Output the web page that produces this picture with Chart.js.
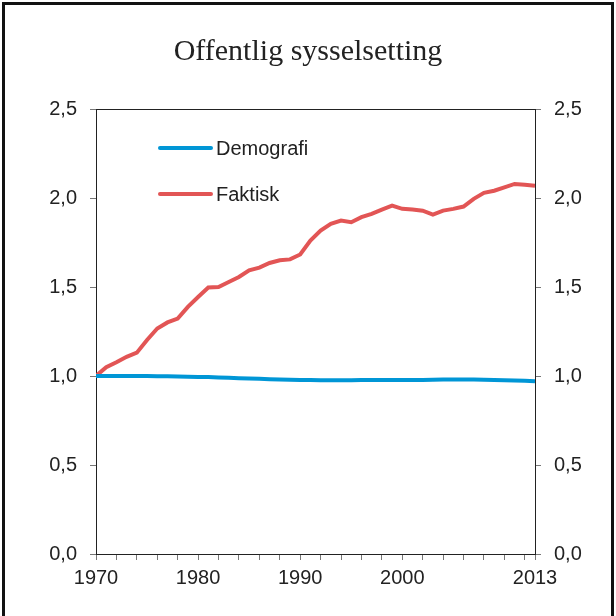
<!DOCTYPE html>
<html>
<head>
<meta charset="utf-8">
<script src="https://cdn.jsdelivr.net/npm/chart.js@4/dist/chart.umd.min.js"></script>
<style>
  body { margin: 0; background: #fff; }
  canvas { display: block; }
</style>
</head>
<body>
<canvas id="sysselChart" width="616" height="616"></canvas>
<script>
// years 1970-2013
const years = [1970, 1971, 1972, 1973, 1974, 1975, 1976, 1977, 1978, 1979,
    1980, 1981, 1982, 1983, 1984, 1985, 1986, 1987, 1988, 1989,
    1990, 1991, 1992, 1993, 1994, 1995, 1996, 1997, 1998, 1999,
    2000, 2001, 2002, 2003, 2004, 2005, 2006, 2007, 2008, 2009,
    2010, 2011, 2012, 2013];

const demografi = [1.000, 1.000, 1.000, 1.000, 1.000, 1.000, 0.999, 0.998, 0.997, 0.996,
    0.995, 0.994, 0.992, 0.990, 0.988, 0.986, 0.984, 0.982, 0.980, 0.979,
    0.978, 0.977, 0.976, 0.976, 0.976, 0.976, 0.977, 0.977, 0.977, 0.977,
    0.977, 0.978, 0.978, 0.979, 0.980, 0.980, 0.980, 0.980, 0.979, 0.977,
    0.976, 0.975, 0.973, 0.971];

const faktisk = [1.000, 1.049, 1.077, 1.108, 1.131, 1.202, 1.267, 1.301, 1.323, 1.388,
    1.444, 1.497, 1.500, 1.528, 1.556, 1.594, 1.609, 1.635, 1.650, 1.655,
    1.683, 1.761, 1.817, 1.855, 1.873, 1.864, 1.892, 1.911, 1.935, 1.957,
    1.939, 1.935, 1.929, 1.907, 1.929, 1.939, 1.952, 1.995, 2.029, 2.041,
    2.060, 2.079, 2.075, 2.069];

const seriesNames = ['Demografi', 'Faktisk'];
const xLabelYears = [1970, 1980, 1990, 2000, 2013];
const titleText = 'Offentlig sysselsetting';

const sansFont = '"Liberation Sans", Arial, sans-serif';

// title, frame and legend drawn by hand
const decorPlugin = {
    id: 'decor',
    afterDraw(chart) {
        const ctx = chart.ctx;
        ctx.save();
        ctx.strokeStyle = '#111';
        ctx.lineWidth = 3;
        ctx.beginPath();
        ctx.moveTo(3.5, 700);
        ctx.lineTo(3.5, 3.5);
        ctx.lineTo(612.5, 3.5);
        ctx.lineTo(612.5, 700);
        ctx.stroke();

        ctx.fillStyle = '#222';
        ctx.font = '30px "Liberation Serif", "Times New Roman", serif';
        ctx.textAlign = 'center';
        ctx.textBaseline = 'alphabetic';
        ctx.fillText(titleText, 308, 60);

        // legend inside plot
        const rows = [148, 194];
        chart.data.datasets.forEach((ds, i) => {
            const y = rows[i];
            ctx.strokeStyle = ds.borderColor;
            ctx.lineWidth = 4;
            ctx.lineCap = 'round';
            ctx.beginPath();
            ctx.moveTo(160, y);
            ctx.lineTo(211, y);
            ctx.stroke();
            ctx.fillStyle = '#222';
            ctx.font = '20px ' + sansFont;
            ctx.textAlign = 'left';
            ctx.textBaseline = 'middle';
            ctx.fillText(ds.label, 216, y + 1);
        });
        ctx.restore();
    }
};

const yTicks = {
    stepSize: 0.5,
    color: '#222',
    padding: 13,
    font: { family: sansFont, size: 20 },
    callback: v => v.toFixed(1).replace('.', ',')
};

const ctx = document.getElementById('sysselChart').getContext('2d');
new Chart(ctx, {
    type: 'line',
    data: {
        datasets: [
            {
                label: seriesNames[0],
                data: years.map((y, i) => ({ x: y, y: demografi[i] })),
                borderColor: '#0096d6',
                borderWidth: 4
            },
            {
                label: seriesNames[1],
                data: years.map((y, i) => ({ x: y, y: faktisk[i] })),
                borderColor: '#e25555',
                borderWidth: 4
            }
        ]
    },
    options: {
        responsive: false,
        animation: false,
        layout: { padding: { top: 109, left: 0, right: 0, bottom: 0 } },
        elements: { point: { radius: 0 }, line: { tension: 0 } },
        plugins: {
            legend: { display: false },
            title: { display: false },
            tooltip: { enabled: false }
        },
        scales: {
            x: {
                type: 'linear',
                min: 1970,
                max: 2013,
                afterBuildTicks: scale => {
                    const t = [];
                    for (let y = 1970; y <= 2012; y += 2) t.push({ value: y });
                    t.push({ value: 2013 });
                    scale.ticks = t;
                },
                afterFit: scale => { scale.height = 62; },
                ticks: {
                    autoSkip: false,
                    maxRotation: 0,
                    color: '#222',
                    padding: 6,
                    font: { family: sansFont, size: 20 },
                    callback: v => xLabelYears.includes(v) ? String(v) : ''
                },
                grid: { drawOnChartArea: false, tickLength: 6, tickColor: '#777' },
                border: { color: '#222', width: 1 }
            },
            y: {
                position: 'left',
                min: 0,
                max: 2.5,
                afterFit: scale => { scale.width = 96; },
                ticks: yTicks,
                grid: {
                    color: c => (c.tick && c.tick.value === 2.5) ? '#222' : 'rgba(0,0,0,0)',
                    tickColor: '#777',
                    tickLength: 6
                },
                border: { color: '#222', width: 1 }
            },
            y2: {
                position: 'right',
                min: 0,
                max: 2.5,
                afterFit: scale => { scale.width = 81; },
                ticks: yTicks,
                grid: { drawOnChartArea: false, tickColor: '#777', tickLength: 6 },
                border: { color: '#222', width: 1 }
            }
        }
    },
    plugins: [decorPlugin]
});
</script>
</body>
</html>
